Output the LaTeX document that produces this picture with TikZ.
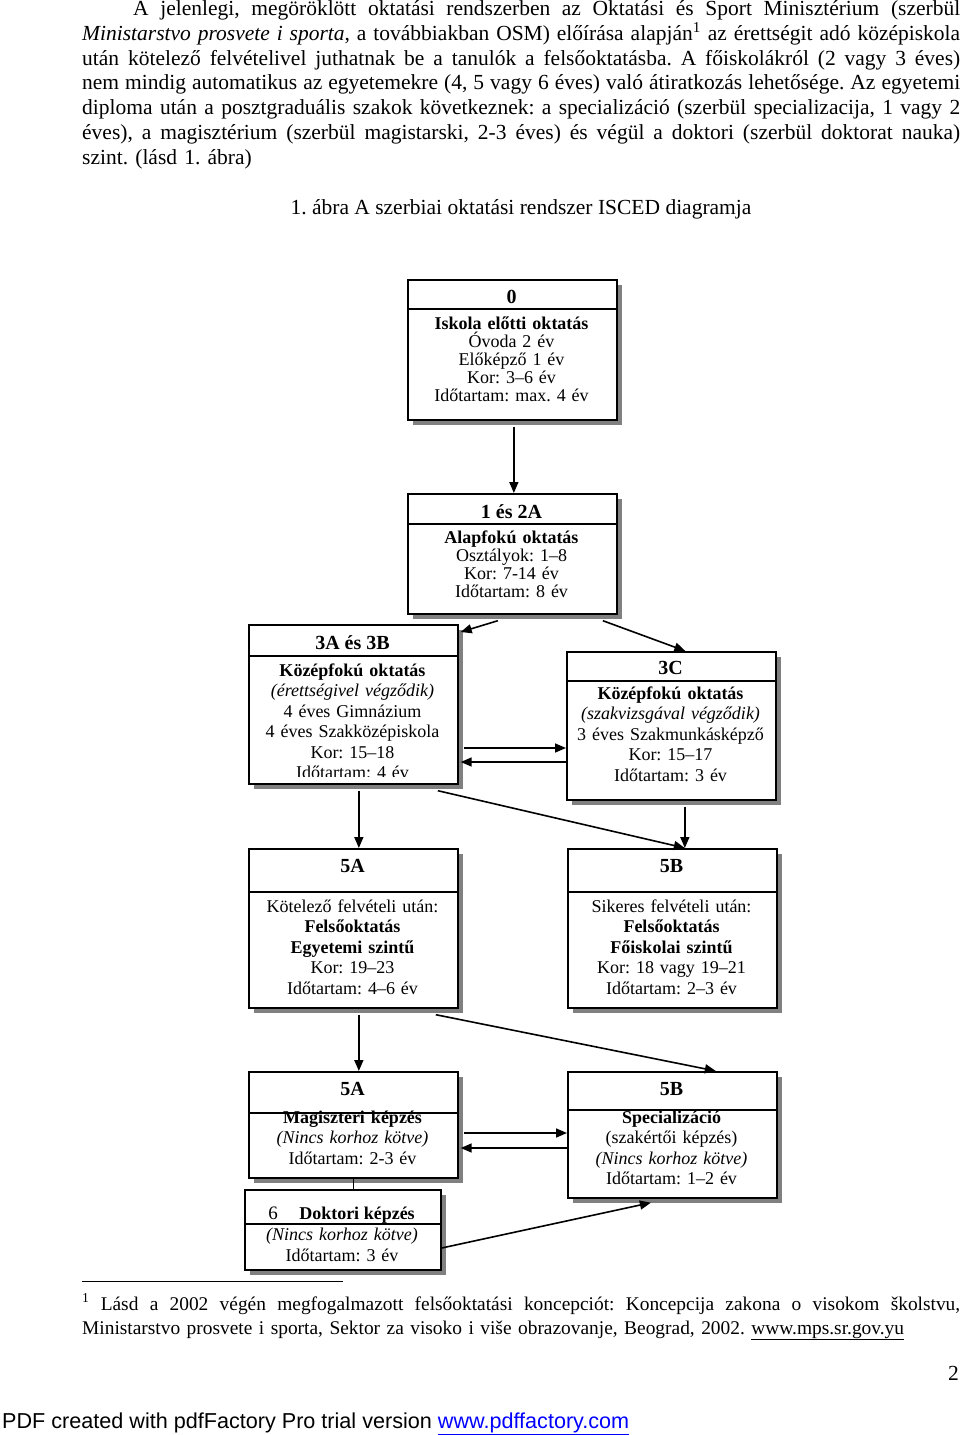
\documentclass[tikz,border=0pt]{standalone}
\usepackage{fontspec}
\setmainfont{Liberation Serif}
\newfontfamily\pdfsans{Liberation Sans}
\usetikzlibrary{arrows.meta,shadows,calc}
\definecolor{shadowgray}{RGB}{128,128,128}
\definecolor{linkblue}{RGB}{0,0,255}
\makeatletter
\def\jl#1#2{\leavevmode\hbox to #1{\jl@w#2 \@nil}}
\def\jl@w#1 #2\@nil{#1\ifx\relax#2\relax\else\hskip 0.25em plus 1fil minus 0.12em\relax\jl@w#2\@nil\fi}
\makeatother
\tikzset{
  boxst/.style={draw=black, line width=1.7pt, fill=white, inner sep=0pt, minimum width=209pt,
    drop shadow={shadow xshift=5pt, shadow yshift=-5pt, fill=shadowgray, opacity=1}},
  hdr/.style={font=\fontsize{20}{22}\selectfont\bfseries, anchor=base, inner sep=0pt},
  bodya/.style={font=\fontsize{18}{18}\selectfont, anchor=base, text width=205pt, align=center, inner sep=0pt},
  bodyb/.style={font=\fontsize{18}{20.5}\selectfont, anchor=base, text width=205pt, align=center, inner sep=0pt},
  arr/.style={line width=1.6pt, -{Triangle[length=11pt,width=9pt]}},
  conn/.style={line width=1.6pt},
  hline/.style={line width=1.6pt},
  para/.style={anchor=base west, text width=878pt, align=left, inner sep=0pt},
}
\begin{document}
\frenchspacing
\begin{tikzpicture}[x=1pt,y=-1pt]
\useasboundingbox (0,0) rectangle (960,1435);
\fill[white] (0,0) rectangle (960,1435);

% paragraph
\node[para, font=\fontsize{21.5}{24.75}\selectfont] (par) at (82,15.5) {%
\hspace*{51pt}\jl{827pt}{A jelenlegi, megöröklött oktatási rendszerben az Oktatási és Sport Minisztérium (szerbül}\\
\jl{878pt}{\textit{Ministarstvo} \textit{prosvete} \textit{i} \textit{sporta}, a továbbiakban OSM) előírása alapján\textsuperscript{1} az érettségit adó középiskola}\\
\jl{878pt}{után kötelező felvételivel juthatnak be a tanulók a felsőoktatásba. A főiskolákról (2 vagy 3 éves)}\\
\jl{878pt}{nem mindig automatikus az egyetemekre (4, 5 vagy 6 éves) való átiratkozás lehetősége. Az egyetemi}\\
\jl{878pt}{diploma után a posztgraduális szakok következnek: a specializáció (szerbül specializacija, 1 vagy 2}\\
\jl{878pt}{éves), a magisztérium (szerbül magistarski, 2-3 éves) és végül a doktori (szerbül doktorat nauka)}\\
szint. (lásd 1. ábra)};

\node[anchor=base, inner sep=0pt, font=\fontsize{21.5}{24}\selectfont] (cap) at (521,214) {1. ábra A szerbiai oktatási rendszer ISCED diagramja};

% boxes
\node[boxst, minimum height=140pt, anchor=north west] (b0) at (407,279) {};
\node[boxst, minimum height=120pt, anchor=north west] (b1) at (407,493) {};
\node[boxst, minimum height=159pt, anchor=north west] (b3a) at (248,624) {};
\node[boxst, minimum height=148pt, anchor=north west] (b3c) at (566,651) {};
\node[boxst, minimum height=159pt, anchor=north west] (b5a) at (248,848) {};
\node[boxst, minimum height=159pt, anchor=north west] (b5b) at (567,848) {};
\node[boxst, minimum height=106pt, anchor=north west] (b5aa) at (248,1071) {};
\node[boxst, minimum height=126pt, anchor=north west] (b5bb) at (567,1071) {};
\node[boxst, minimum width=196pt, minimum height=80pt, anchor=north west] (b6) at (244,1189) {};

% header lines
\draw[hline] (b0.west |- 0,309) -- (b0.east |- 0,309);
\draw[hline] (b1.west |- 0,524) -- (b1.east |- 0,524);
\draw[hline] (b3a.west |- 0,656) -- (b3a.east |- 0,656);
\draw[hline] (b3c.west |- 0,681) -- (b3c.east |- 0,681);
\draw[hline] (b5a.west |- 0,892) -- (b5a.east |- 0,892);
\draw[hline] (b5b.west |- 0,892) -- (b5b.east |- 0,892);
\draw[hline] (b5aa.west |- 0,1113) -- (b5aa.east |- 0,1113);
\draw[hline] (b5bb.west |- 0,1110) -- (b5bb.east |- 0,1110);
\draw[hline] (b6.west |- 0,1224) -- (b6.east |- 0,1224);

% headers
\node[hdr] (h0) at (511.5,303) {0};
\node[hdr] (h1) at (511.5,518) {1 és 2A};
\node[hdr] (h3a) at (352.5,649) {3A és 3B};
\node[hdr] (h3c) at (670.5,674) {3C};
\node[hdr] (h5a) at (352.5,872) {5A};
\node[hdr] (h5b) at (671.5,872) {5B};
\node[hdr] (h5aa) at (352.5,1095) {5A};
\node[hdr] (h5bb) at (671.5,1095) {5B};
\node[anchor=base, inner sep=0pt, font=\fontsize{19}{20}\selectfont] (h6a) at (273,1219) {6};
\node[anchor=base, inner sep=0pt, font=\fontsize{18}{20}\selectfont\bfseries] (h6b) at (357,1219) {Doktori képzés};

% body texts
\node[bodya] (t0) at (511.5,329) {\textbf{Iskola előtti oktatás}\\Óvoda 2 év\\Előképző 1 év\\Kor: 3–6 év\\Időtartam: max. 4 év};
\node[bodya] (t1) at (511.5,543) {\textbf{Alapfokú oktatás}\\Osztályok: 1–8\\Kor: 7-14 év\\Időtartam: 8 év};
\begin{scope}
\clip (248,657) rectangle (458,776);
\node[bodyb] (t3a) at (352.5,676) {\textbf{Középfokú oktatás}\\\textit{(érettségivel végződik)}\\4 éves Gimnázium\\4 éves Szakközépiskola\\Kor: 15–18\\Időtartam: 4 év};
\end{scope}
\node[bodyb] (t3c) at (670.5,699) {\textbf{Középfokú oktatás}\\\textit{(szakvizsgával végződik)}\\3 éves Szakmunkásképző\\Kor: 15–17\\Időtartam: 3 év};
\node[bodyb] (t5a) at (352.5,912) {Kötelező felvételi után:\\\textbf{Felsőoktatás}\\\textbf{Egyetemi szintű}\\Kor: 19–23\\Időtartam: 4–6 év};
\node[bodyb] (t5b) at (671.5,912) {Sikeres felvételi után:\\\textbf{Felsőoktatás}\\\textbf{Főiskolai szintű}\\Kor: 18 vagy 19–21\\Időtartam: 2–3 év};
\node[bodyb] (t5aa) at (352.5,1123) {\textbf{Magiszteri képzés}\\\textit{(Nincs korhoz kötve)}\\Időtartam: 2-3 év};
\node[bodyb] (t5bb) at (671.5,1123) {\textbf{Specializáció}\\(szakértői képzés)\\\textit{(Nincs korhoz kötve)}\\Időtartam: 1–2 év};
\node[bodyb, text width=190pt, font=\fontsize{18}{21}\selectfont] (t6) at (342,1240) {\textit{(Nincs korhoz kötve)}\\Időtartam: 3 év};

% connectors
\draw[arr] ($(b0.south)+(1.5,6)$) -- ($(b1.north)+(1.5,0)$);
\draw[arr] ($(b1.south)+(-14.5,6)$) -- ($(b3a.north east)+(2,8)$);
\draw[arr] ($(b1.south)+(90.5,6)$) -- ($(b3c.north)+(14,0)$);
\draw[arr] ($(b3a.east |- 0,748)+(5,0)$) -- (b3c.west |- 0,748);
\draw[arr] (b3c.west |- 0,762) -- ($(b3a.east |- 0,762)+(2,0)$);
\draw[arr] ($(b3a.south)+(5.5,6)$) -- ($(b5a.north)+(5.5,0)$);
\draw[arr] ($(b3a.south)+(84.5,6)$) -- ($(b5b.north)+(12.5,0)$);
\draw[arr] ($(b3c.south)+(13.5,6)$) -- ($(b5b.north)+(12.5,0)$);
\draw[arr] ($(b5a.south)+(5.5,6)$) -- ($(b5aa.north)+(5.5,0)$);
\draw[arr] ($(b5a.south)+(82.5,6)$) -- ($(b5bb.north)+(43.5,0)$);
\draw[arr] ($(b5aa.east |- 0,1133)+(5,0)$) -- (b5bb.west |- 0,1133);
\draw[arr] (b5bb.west |- 0,1148) -- ($(b5aa.east |- 0,1148)+(2,0)$);
\draw[conn] (b5aa.south) -- (b5aa.south |- b6.north);
\draw[arr] (b6.east |- 0,1248) -- ($(b5bb.south)+(-21.5,4)$);

% footnote
\draw[line width=0.8pt] (82,1281) -- (343,1281);
\node[para, font=\fontsize{19.4}{24}\selectfont] (fn) at (82,1310) {%
\jl{878pt}{\textsuperscript{1} Lásd a 2002 végén megfogalmazott felsőoktatási koncepciót: Koncepcija zakona o visokom školstvu,}\\
Ministarstvo prosvete i sporta, Sektor za visoko i više obrazovanje, Beograd, 2002. \underline{www.mps.sr.gov.yu}};

\node[anchor=base east, inner sep=0pt, font=\fontsize{21.5}{24}\selectfont] (pg) at (959,1380) {2};

\node[anchor=base west, inner sep=0pt, font=\pdfsans\fontsize{21.6}{24}\selectfont] (pdf) at (2,1428) {PDF created with pdfFactory Pro trial version \textcolor{linkblue}{\underline{www.pdffactory.com}}};
\end{tikzpicture}
\end{document}
